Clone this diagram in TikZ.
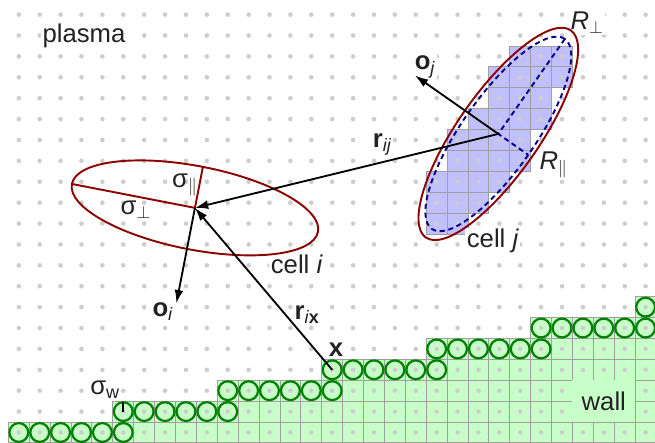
\documentclass[tikz,border=0pt]{standalone}
\usepackage{amsmath,amssymb}
\usepackage{fontspec}
\setmainfont{Liberation Sans}
\usepackage{xcolor}
\usepackage{tikz}
\usetikzlibrary{arrows.meta}

\definecolor{wallgreen}{RGB}{200,255,200}
\definecolor{wallline}{RGB}{0,128,0}
\definecolor{cellblue}{RGB}{192,192,255}
\definecolor{celldark}{RGB}{140,0,0}
\definecolor{cellnavy}{RGB}{0,0,140}
\definecolor{dotgrey}{RGB}{205,205,205}
\definecolor{ink}{RGB}{34,34,34}

\begin{document}
\begin{tikzpicture}[x=0.5cm,y=0.5cm,
    lbl/.style={fill=white, inner sep=1pt, text=ink, font=\fontsize{17.5}{20}\selectfont},
    lblin/.style={lbl, fill=none},
    wallcell/.style={fill=wallgreen, draw=gray!75, line width=0.6pt},
    blockcell/.style={fill=cellblue, draw=gray!75, line width=0.6pt},
    wallpt/.style={draw=wallline, line width=1.5pt},
    griddot/.style={fill=dotgrey},
    bound/.style={draw=celldark, line width=1.3pt},
    bounddash/.style={draw=cellnavy, line width=1.3pt, dash pattern=on 3.5pt off 2.5pt},
    vec/.style={-{Latex[length=9pt,width=6pt]}, line width=1.25pt}]
  \fill[white] (-0.4,0) rectangle (30.95,21.2);
  \useasboundingbox (-0.4,0) rectangle (30.95,21.2);

  % wall cells and surface points
  \foreach \c in {0,...,30}{
    \pgfmathtruncatemacro\h{\c/5+1}
    \foreach \r in {1,...,\h}
      \draw[wallcell] (\c,\r-1) rectangle ++(1,1);
  }
  % cells covered by cell j
  \foreach \r/\a/\b in {18/24/26,17/23/26,16/23/25,15/22/25,14/21/24,
                        13/21/24,12/20/23,11/20/22,10/20/21}
    \foreach \c in {\a,...,\b}
      \draw[blockcell] (\c,\r) rectangle ++(1,1);
  \foreach \c in {0,...,30}{
    \pgfmathtruncatemacro\h{\c/5+1}
    \draw[wallpt] (\c+.5,\h-.5) circle (.45);
  }
  \foreach \c in {5,10,...,30}{
    \pgfmathtruncatemacro\h{\c/5+1}
    \draw[wallpt] (\c+.5,\h-1.5) circle (.45);
  }
  \foreach \x in {0,...,30}
    \foreach \y in {0,...,20}
      \fill[griddot] (\x+.5,\y+.5) circle (.11);

  \coordinate (ci) at (8.93,11.25);
  \coordinate (cj) at (23.45,14.79);
  \coordinate (xpt) at (15.5,3.5);
  \coordinate (sw0) at (5.5,1.5);
  \coordinate (sw1) at (5.5,1.97);

  \node[lbl] (plasma) at (3.62,19.5) {plasma};
  \node[lbl] (celli) at (13.81,8.54) {cell \textit{i}};
  \node[lbl] (cellj) at (23.19,9.65) {cell \textit{j}};
  \node[lbl, fill=wallgreen, minimum width=1.5cm, minimum height=1cm, inner sep=0pt] (wall) at (28.5,2) {wall};
  \node[lbl] (sigw) at (4.63,2.55) {σ\textsubscript{w}};
  \node[lbl] (xlab) at (15.68,4.48) {\textbf{x}};
  \node[lbl] (rix) at (14.3,6.15) {\textbf{r}\textsubscript{\textit{i}\textbf{x}}};
  \node[lbl] (oi) at (7.4,6.3) {\textbf{o}\textsubscript{\textit{i}}};
  \node[lbl] (oj) at (19.95,18.0) {\textbf{o}\textsubscript{\textit{j}}};
  \node[lbl] (rij) at (17.9,14.3) {\textbf{r}\textsubscript{\textit{ij}}};
  \node[lbl] (rperp) at (27.7,20.1) {\textit{R}\textsubscript{$\perp$}};
  \node[lbl] (rpar) at (26.1,13.3) {\textit{R}\textsubscript{$\parallel$}};
  \node[lblin] (spar) at (8.45,12.35) {σ\textsubscript{$\parallel$}};
  \node[lblin] (sperp) at (6.1,11.15) {σ\textsubscript{$\perp$}};

  % cell i
  \begin{scope}[shift={(ci)}, rotate=-11]
    \draw[bound] (0,0) ellipse [x radius=6, y radius=2];
    \coordinate (imaj) at (-6,0);
    \coordinate (imin) at (0,2);
    \coordinate (oiend) at (0,-4.65);
  \end{scope}
  \draw[bound] (imaj) -- (ci) -- (imin);

  % cell j
  \begin{scope}[shift={(cj)}, rotate=55]
    \draw[bound] (0,0) ellipse [x radius=6.05, y radius=1.95];
    \draw[bounddash] (0,0) ellipse [x radius=5.55, y radius=1.75];
    \coordinate (jmaj) at (5.55,0);
    \coordinate (jmin) at (0,-1.75);
    \coordinate (ojend) at (0,4.87);
  \end{scope}
  \draw[bounddash] (jmaj) -- (cj) -- (jmin);

  \draw[line width=1.2pt] (sw0) -- (sw1);
  \draw[vec] (cj) -- (ci);
  \draw[vec] (xpt) -- (ci);
  \draw[vec] (ci) -- (oiend);
  \draw[vec] (cj) -- (ojend);
\end{tikzpicture}
\end{document}
